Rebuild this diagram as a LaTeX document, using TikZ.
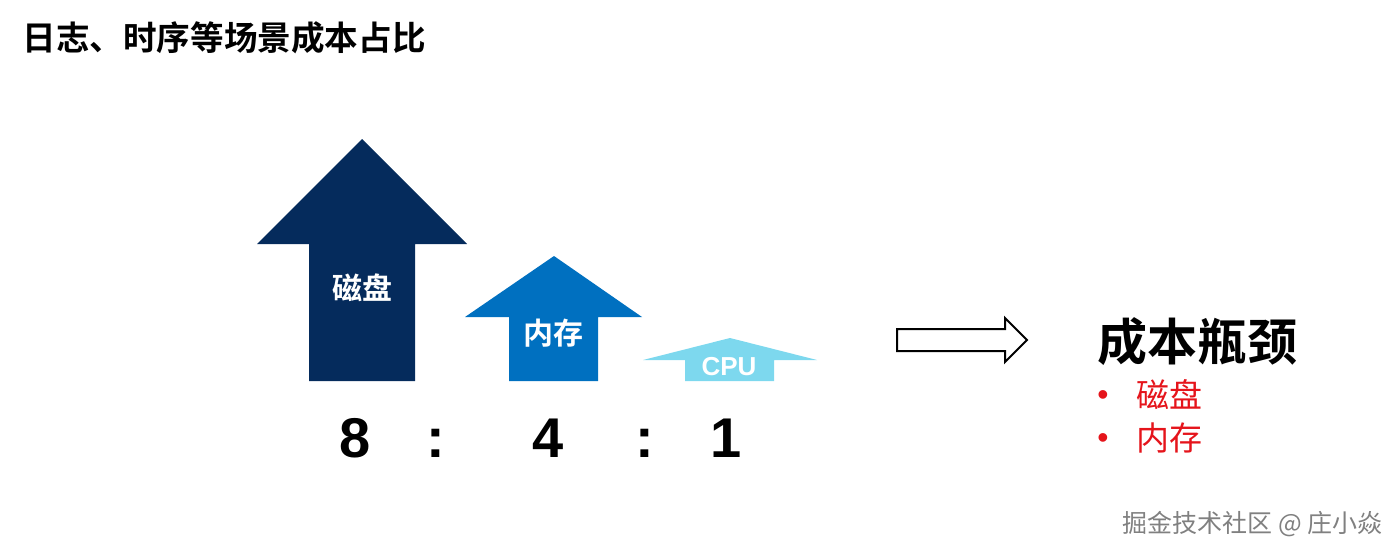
\documentclass[tikz,border=0pt]{standalone}
\usepackage{fontspec}
\setmainfont{Liberation Sans}
\newfontfamily\cjk{Noto Sans CJK SC}[BoldFont={Noto Sans CJK SC Bold}]
\newfontfamily\lat{Liberation Sans}
\definecolor{navy}{HTML}{052B5C}
\definecolor{midblue}{HTML}{0070C0}
\definecolor{lightcyan}{HTML}{7DD8EE}
\definecolor{bred}{HTML}{E5141B}
\begin{document}
\begin{tikzpicture}[x=0.5pt,y=-0.5pt,
  lbl/.style={text=white,inner sep=0pt,anchor=center},
  ratio/.style={font=\lat\bfseries\fontsize{28}{30}\selectfont,inner sep=0pt,anchor=base},
  item/.style={font=\cjk\fontsize{16.5}{18}\selectfont,text=bred,inner sep=0pt,anchor=west},
  dot/.style={font=\lat\fontsize{16}{18}\selectfont,text=bred,inner sep=0pt,anchor=center}]
\useasboundingbox (0,0) rectangle (1400,552);
% title
\node[anchor=west,inner sep=0pt,font=\cjk\bfseries\fontsize{16.8}{18}\selectfont] (title) at (22,38) {日志、时序等场景成本占比};
% big arrow
\fill[navy] (362,139) -- (467,244) -- (415,244) -- (415,381) -- (309,381) -- (309,244) -- (257,244) -- cycle;
\node[lbl,font=\cjk\bfseries\fontsize{15}{16}\selectfont] (disk) at (362,288) {磁盘};
% medium arrow
\fill[midblue] (554,256) -- (642,317) -- (598,317) -- (598,381) -- (509,381) -- (509,317) -- (465,317) -- cycle;
\node[lbl,font=\cjk\bfseries\fontsize{15}{16}\selectfont] (mem) at (553,333) {内存};
% small arrow
\fill[lightcyan] (730,338) -- (817,360) -- (774,360) -- (774,381) -- (685,381) -- (685,360) -- (643,360) -- cycle;
\node[lbl,font=\lat\bfseries\fontsize{13}{14}\selectfont] (cpu) at (729,367) {CPU};
% ratio
\node[ratio] (r8) at (355,457) {8};
\node[ratio] (c1) at (436,457) {:};
\node[ratio] (r4) at (548,457) {4};
\node[ratio] (c2) at (645,457) {:};
\node[ratio] (r1) at (726,457) {1};
% hollow arrow
\draw[black,line width=1pt,fill=white] (897,329) -- (1005,329) -- (1005,318) -- (1027,340) -- (1005,362) -- (1005,351) -- (897,351) -- cycle;
% right text
\node[anchor=west,inner sep=0pt,font=\cjk\bfseries\fontsize{25}{27}\selectfont] (bottle) at (1097,342) {成本瓶颈};
\node[dot] (d1) at (1103,398) {•};
\node[item] (i1) at (1136,395) {磁盘};
\node[dot] (d2) at (1103,441) {•};
\node[item] (i2) at (1136,438) {内存};
% watermark
\node[anchor=west,inner sep=0pt,text=white,font=\cjk\fontsize{12.5}{14}\selectfont] at (1124,526) {掘金技术社区 @ 庄小焱};
\node[anchor=west,inner sep=0pt,text=black!50,font=\cjk\fontsize{12.5}{14}\selectfont] (wm) at (1122,524) {掘金技术社区 @ 庄小焱};
\end{tikzpicture}
\end{document}
